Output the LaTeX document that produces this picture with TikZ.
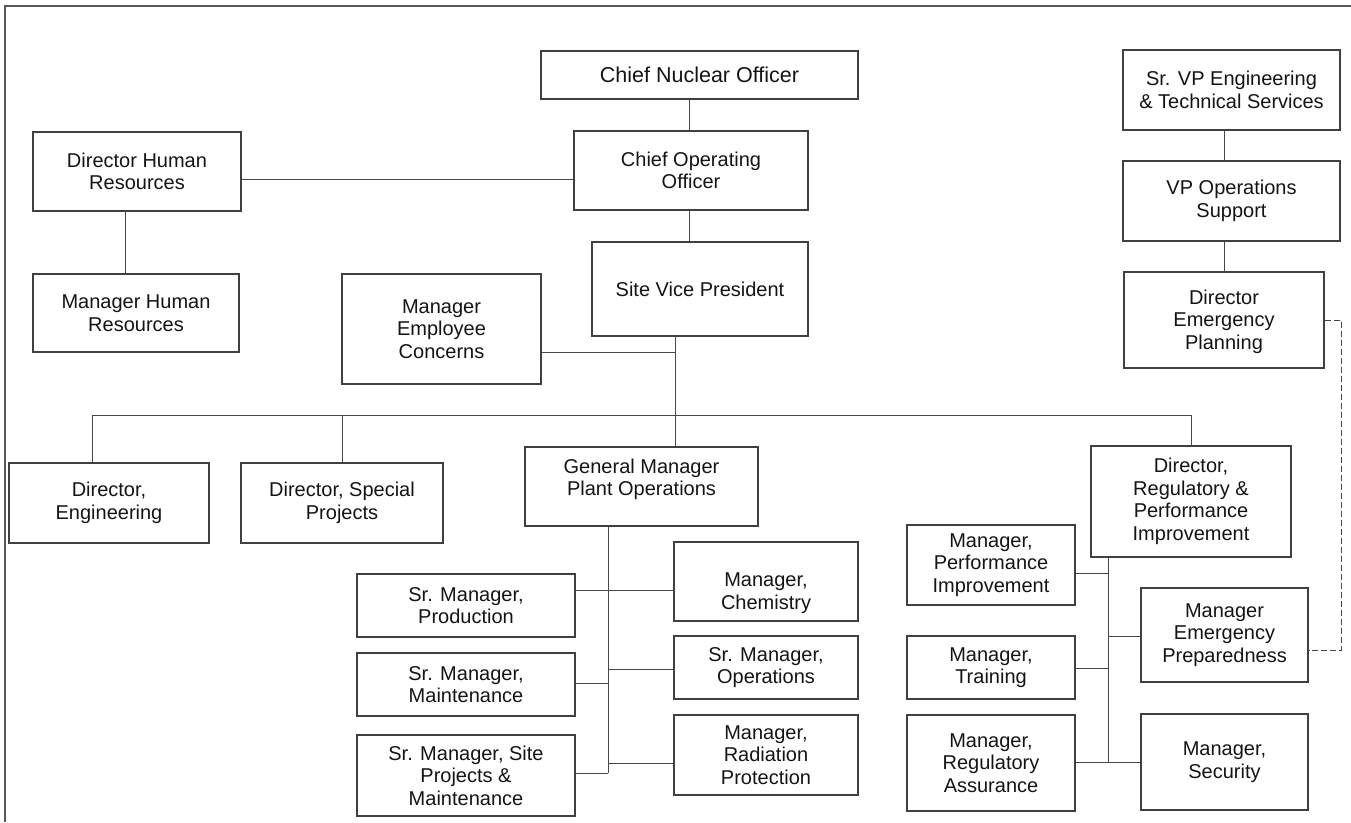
\documentclass[tikz,border=0pt]{standalone}
\usepackage{fontspec}
\setmainfont{Liberation Sans}
\begin{document}
\begin{tikzpicture}[x=1pt,y=-1pt,
  bx/.style={draw=black!75, line width=1.3pt, rectangle, inner sep=0pt, align=center,
    text=black!92, font=\fontsize{20}{22.5}\selectfont},
  ln/.style={draw=black!72, line width=1pt},
  dl/.style={draw=black!72, line width=1pt, dash pattern=on 6pt off 3pt}]
\useasboundingbox (0,0) rectangle (1351,822);
\newcommand{\obox}[7][]{\node[bx, minimum width={(#5-#3)*1pt}, minimum height={(#6-#4)*1pt}, #1] (#2) at ({(#3+#5)/2},{(#4+#6)/2}) {#7};}
% frame
\draw[draw=black!65, line width=1.6pt] (5,822) -- (5,6) -- (1351,6);
% boxes
\obox{cno}{541}{51}{858}{99}{\fontsize{21.5}{24}\selectfont Chief Nuclear Officer}
\obox{coo}{574}{131}{808}{210}{Chief Operating\\Officer}
\obox{svp}{592}{242}{808}{336}{Site Vice President}
\obox{dhr}{33}{132}{241}{211}{Director Human\\Resources}
\obox{mhr}{33}{274}{239}{352}{Manager Human\\Resources}
\obox{mec}{342}{274}{541}{384}{Manager\\Employee\\Concerns}
\obox{srvp}{1123}{50}{1340}{130}{Sr. VP Engineering\\\& Technical Services}
\obox{vpo}{1123}{161}{1340}{241}{VP Operations\\Support}
\obox[text height=62pt, text depth=4pt]{dep}{1124}{272}{1324}{368}{Director\\Emergency\\Planning}
\obox{deng}{9}{463}{209}{543}{Director,\\Engineering}
\obox{dsp}{241}{463}{443}{543}{Director, Special\\Projects}
\obox[text height=37.5pt, text depth=19.5pt]{gm}{525}{447}{758}{526}{General Manager\\Plant Operations}
\obox{dreg}{1091}{446}{1291}{557}{Director,\\Regulatory \&\\Performance\\Improvement}
\obox{smp}{357}{574}{575}{637}{Sr. Manager,\\Production}
\obox{smm}{357}{653}{575}{716}{Sr. Manager,\\Maintenance}
\obox{sms}{357}{735}{575}{816}{Sr. Manager, Site\\Projects \&\\Maintenance}
\obox[text height=60pt, text depth=5pt]{mchem}{674}{542}{858}{621}{Manager,\\Chemistry}
\obox{smo}{674}{636}{858}{699}{Sr. Manager,\\Operations}
\obox{mrp}{674}{715}{858}{795}{Manager,\\Radiation\\Protection}
\obox{mpi}{907}{525}{1075}{605}{Manager,\\Performance\\Improvement}
\obox{mt}{907}{636}{1075}{699}{Manager,\\Training}
\obox{mra}{907}{715}{1075}{811}{Manager,\\Regulatory\\Assurance}
\obox{mep}{1141}{588}{1308}{682}{Manager\\Emergency\\Preparedness}
\obox{ms}{1141}{714}{1308}{810}{Manager,\\Security}
% junction coordinates
\coordinate (busL) at (92,415);
\coordinate (busR) at (1191,415);
\coordinate (svpj) at (675,415);
\coordinate (mecj) at (675,352);
\coordinate (gmend) at (608,773);
\coordinate (dregend) at (1108,762);
\coordinate (dashA) at (1341,320);
\coordinate (dashB) at (1341,650);
% connectors
\draw[ln] (cno.south -| 689,0) -- (coo.north -| 689,0);
\draw[ln] (coo.south -| 689,0) -- (svp.north -| 689,0);
\draw[ln] (dhr.east |- 0,179) -- (coo.west |- 0,179);
\draw[ln] (dhr.south -| 125,0) -- (mhr.north -| 125,0);
\draw[ln] (svp.south -| 675,0) -- (svpj);
\draw[ln] (mec.east |- mecj) -- (mecj);
\draw[ln] (busL) -- (busR);
\draw[ln] (busL) -- (deng.north -| busL);
\draw[ln] (342,415) -- (dsp.north -| 342,0);
\draw[ln] (svpj) -- (gm.north -| svpj);
\draw[ln] (busR) -- (dreg.north -| busR);
% GM group
\draw[ln] (gm.south -| gmend) -- (gmend);
\draw[ln] (smp.east |- 0,590) -- (mchem.west |- 0,590);
\draw[ln] (smo.west |- 0,669) -- (608,669);
\draw[ln] (smm.east |- 0,683) -- (608,683);
\draw[ln] (mrp.west |- 0,763) -- (608,763);
\draw[ln] (sms.east |- gmend) -- (gmend);
% Director regulatory group
\draw[ln] (dreg.south -| dregend) -- (dregend);
\draw[ln] (mpi.east |- 0,573) -- (1108,573);
\draw[ln] (mep.west |- 0,636) -- (1108,636);
\draw[ln] (mt.east |- 0,668) -- (1108,668);
\draw[ln] (mra.east |- dregend) -- (ms.west |- dregend);
% right column
\draw[ln] (srvp.south -| 1224,0) -- (vpo.north -| 1224,0);
\draw[ln] (vpo.south -| 1224,0) -- (dep.north -| 1224,0);
\draw[dl] (dep.east |- dashA) -- (dashA) -- (dashB) -- (mep.east |- dashB);
\end{tikzpicture}
\end{document}
